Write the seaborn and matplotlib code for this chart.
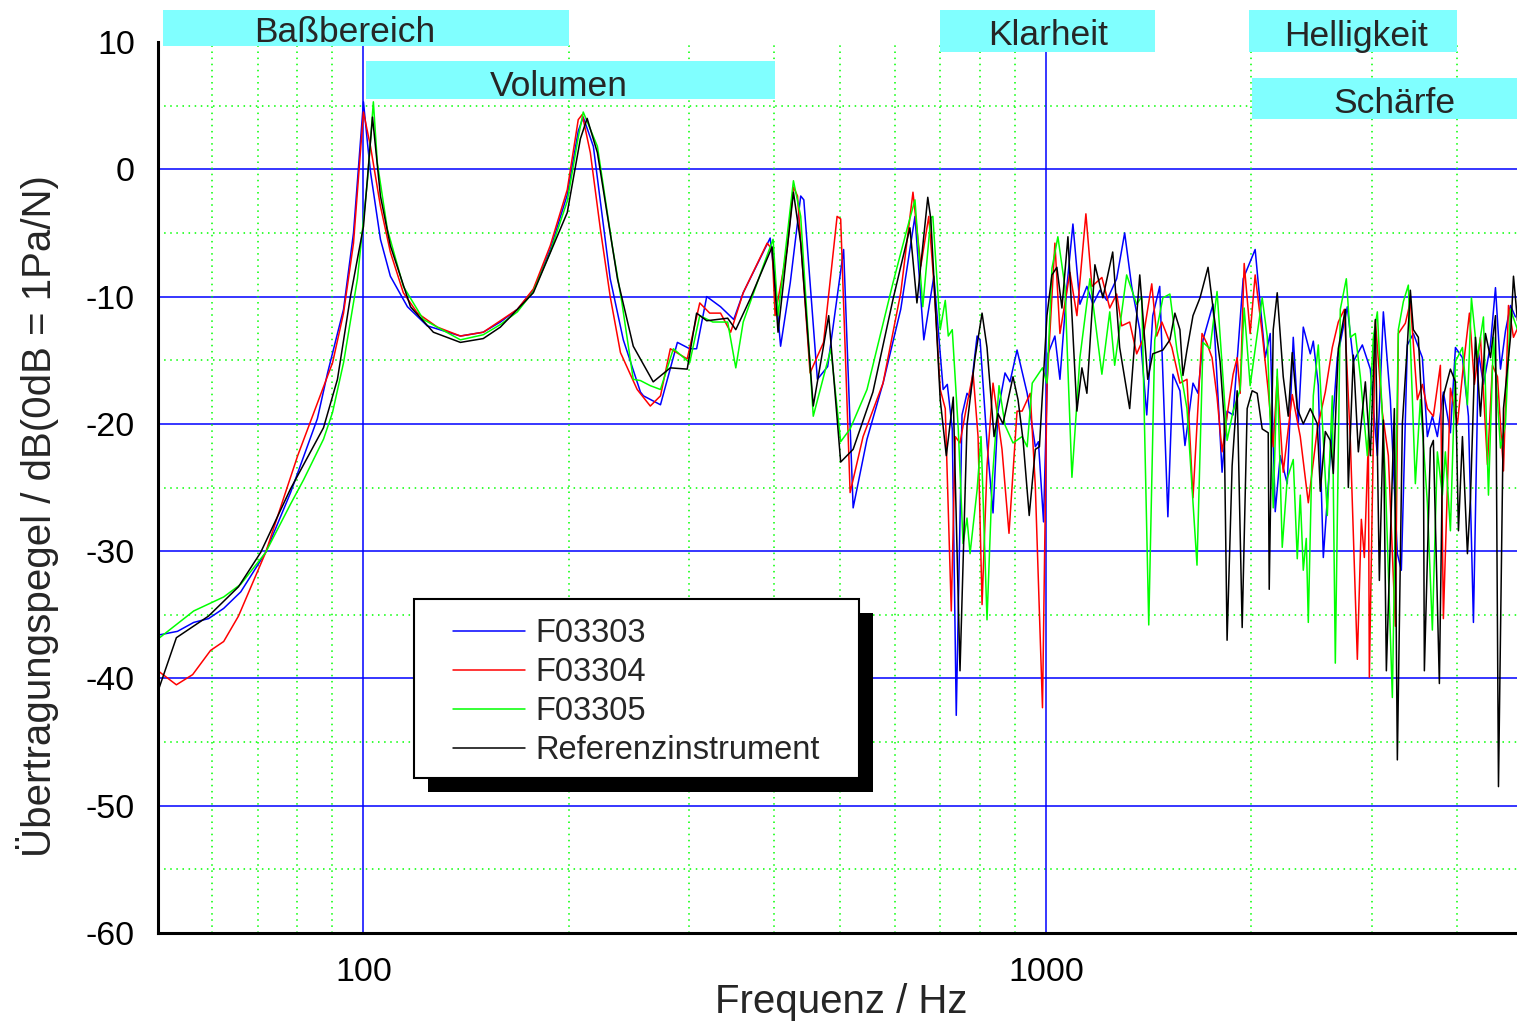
import matplotlib
matplotlib.use("Agg")
import matplotlib.pyplot as plt
from matplotlib.patches import Rectangle
from matplotlib.lines import Line2D
from matplotlib.transforms import IdentityTransform
import pandas as pd
import seaborn as sns

# Frequenzgang F03303 (blau)
f_f03303 = [50, 53.4, 56.4, 59.3, 62.4, 66.1, 71.9, 78.2, 85.6, 88.6, 93.5, 96.7, 98.3, 100, 101.4, 102.4,
            105.9, 109.5, 116, 124, 138.7, 149.8, 158.7, 168.1, 177.4, 187.8, 198.9, 206.4, 209.9, 217.2,
            229.9, 240.3, 254.6, 257.2, 272.4, 288.4, 300.6, 307.7, 318.4, 333.6, 348.8, 360.1, 394.4, 401,
            408.5, 422.1, 437.2, 441.8, 462.5, 478.8, 505.3, 521.8, 546.8, 577.2, 612.7, 642.8, 662.3, 685.1,
            707, 716.9, 729, 738.9, 753.4, 766.2, 774.1, 792.7, 800.7, 819.7, 836.5, 850.7, 871, 885.8, 907.1,
            938.6, 964.8, 974.9, 991.9, 1006.8, 1030.7, 1048.3, 1073.3, 1095.3, 1121.4, 1148.2, 1171.7, 1199.6,
            1228, 1269.5, 1304.2, 1335.4, 1372.3, 1405.1, 1433.8, 1468, 1508.9, 1534.7, 1571.5, 1598.4, 1642.3,
            1670.3, 1698.8, 1757.2, 1811.6, 1842.5, 1880.4, 1945.3, 2025.6, 2060.2, 2095.4, 2131, 2167.4,
            2204.3, 2257.2, 2303.4, 2342.6, 2382.6, 2439.7, 2464.5, 2506.5, 2549.2, 2610.1, 2672.4, 2764.3,
            2821, 2908, 2987.6, 3059, 3121.6, 3196.2, 3272.5, 3317, 3384.8, 3454, 3560.6, 3621.2, 3682.8,
            3745.6, 3822.3, 3914.1, 3981.1, 4076, 4159.4, 4230.2, 4302.3, 4375.6, 4480.4, 4556.7, 4634.3,
            4713.2, 4793.4, 4874.9]
db_f03303 = [-36.6, -36.3, -35.6, -35.3, -34.5, -33.2, -30.1, -25.4, -19.6, -16.0, -11.0, -5.0, 0.0, 5.3, 2.0, -0.2,
             -5.5, -8.4, -10.8, -12.3, -13.1, -12.8, -12.0, -11.0, -9.5, -6.3, -2.0, 3.0, 4.1, 1.8,
             -8.6, -13.4, -17.5, -17.8, -18.5, -13.6, -14.1, -14.1, -10.0, -10.8, -11.8, -9.7, -5.4, -8.9,
             -13.9, -8.9, -2.1, -2.4, -16.5, -15.5, -6.3, -26.6, -21.2, -16.8, -11.0, -3.7, -13.4, -8.4,
             -17.3, -16.9, -20.4, -42.9, -19.3, -17.6, -17.9, -13.1, -13.4, -21.5, -27.0, -19.0, -16.0, -16.7, -14.2,
             -17.6, -21.8, -21.4, -27.7, -14.5, -13.1, -16.5, -9.2, -4.3, -10.6, -9.2, -10.6, -9.5,
             -10.3, -8.6, -5.0, -9.2, -12.6, -19.3, -11.5, -9.2, -27.3, -16.1, -17.4, -21.7, -16.8,
             -17.6, -13.4, -10.6, -23.8, -19.0, -19.3, -8.6, -6.3, -10.6, -14.8, -12.9, -26.9,
             -22.5, -24.7, -13.2, -20.0, -12.4, -14.5, -13.5, -17.0, -30.5, -22.5, -14.8, -10.8,
             -15.1, -13.8, -15.7, -22.5, -11.2, -18.1, -30.2, -31.5, -13.8, -12.9, -14.8, -21.0, -19.4,
             -21.0, -17.5, -20.7, -14.0, -14.8, -19.4, -35.6, -14.4, -16.9, -13.8, -9.3, -15.7,
             -12.7, -10.7, -11.6]

# Frequenzgang F03304 (rot)
f_f03304 = [50, 53.2, 56.2, 59.7, 62.4, 65.6, 71.9, 80.1, 84.2, 90.1, 93.5, 96.7, 98.3, 100, 102.4, 105.9,
            109.5, 114.4, 120, 128.3, 138.7, 149.8, 158.7, 168.1, 177.4, 187.8, 198.9, 206.4, 209.2, 215,
            222.4, 229.9, 238, 251.8, 263.2, 272.4, 281.6, 298.1, 311, 321.6, 333.6, 345.2, 360.1, 390.4,
            397, 401, 417.6, 426.6, 432.5, 451.2, 472.2, 494.3, 500.3, 516.5, 539.6, 577.2, 612.7, 638.5,
            655.6, 673.5, 685.1, 700, 712, 726.6, 736.4, 748.3, 761.1, 782, 795.3, 806.1, 819.7, 836.5, 862.2,
            882.8, 907.1, 922.7, 948.3, 964.8, 988.4, 1003.4, 1030.7, 1048.3, 1084.3, 1110.1, 1144.3, 1167.7,
            1207.7, 1240.2, 1269.5, 1291.1, 1326.4, 1358.1, 1386.3, 1429, 1453.3, 1478.6, 1529.5, 1571.5,
            1609.3, 1642.3, 1693.1, 1721.9, 1751.3, 1781.2, 1811.6, 1848.8, 1880.4, 1906.2, 1925.7, 1951.9,
            1991.7, 2025.6, 2074.2, 2116.8, 2152.9, 2182.1, 2226.8, 2295.6, 2358.5, 2423.3, 2498.1, 2566.4,
            2627.7, 2681.4, 2736.4, 2792.5, 2859.3, 2898.2, 2927.7, 2967.5, 2977.5, 3038.5, 3111.1, 3174.7,
            3250.5, 3283.6, 3362, 3419.2, 3501, 3560.6, 3621.2, 3695.3, 3783.8, 3822.3, 3914.1, 4008, 4089.8,
            4173.4, 4244.5, 4331.5, 4435.2, 4510.8, 4587.6, 4681.4, 4761.1, 4842.2, 4907.9]
db_f03304 = [-39.4, -40.5, -39.7, -37.8, -37.1, -35.1, -30.1, -22.5, -19.4, -15.2, -11.3, -5.8, -0.8, 4.5, 1.8, -2.9,
             -6.5, -9.7, -11.3, -12.4, -13.1, -12.8, -11.9, -11.0, -9.4, -6.0, -1.6, 3.9, 4.3, 1.3,
             -4.7, -10.0, -14.4, -17.3, -18.6, -17.8, -14.1, -14.9, -10.5, -11.3, -11.3, -12.8, -9.7, -5.8,
             -6.3, -11.5, -6.3, -1.4, -2.1, -16.0, -13.6, -3.7, -3.9, -25.4, -21.0, -16.8, -9.7, -1.8,
             -7.6, -3.7, -8.9, -17.3, -18.8, -34.7, -21.0, -21.5, -19.3, -16.0, -21.0, -34.2, -23.3, -16.8, -22.0,
             -28.6, -19.0, -19.0, -17.6, -24.9, -42.3, -17.0, -5.8, -12.9, -8.1, -11.5, -3.5, -9.2,
             -8.5, -10.9, -9.8, -12.3, -12.0, -14.5, -13.4, -9.0, -13.1, -12.0, -14.0, -16.8,
             -16.5, -25.8, -12.9, -13.7, -14.8, -17.9, -22.2, -18.8, -16.1, -14.8, -17.6, -7.4,
             -12.9, -8.3, -12.9, -17.4, -21.8, -16.3, -23.8, -17.7, -21.0, -26.2, -20.4, -17.5,
             -14.0, -12.0, -11.0, -21.3, -38.5, -27.5, -30.5, -21.3, -39.9, -11.9, -19.1, -22.5,
             -35.9, -12.9, -12.1, -10.4, -18.1, -16.9, -18.8, -19.4, -15.4, -35.3, -17.2, -20.0, -15.4,
             -11.3, -16.9, -13.2, -23.2, -15.4, -16.3, -23.7, -10.7, -13.2, -12.5]

# Frequenzgang F03305 (gruen)
f_f03305 = [50, 56.4, 62.4, 66.1, 71.9, 78.2, 81.7, 87.4, 90.1, 93.5, 98, 101.4, 103.4, 104.8, 108.4, 114.4,
            122.4, 138.7, 149.8, 158.7, 168.1, 177.4, 187.8, 198.9, 206.4, 209.9, 220.2, 231.5, 239.2, 248.5,
            254.6, 263.2, 272.4, 284.5, 300.6, 311, 325, 341.7, 351.2, 360.1, 385.2, 398.3, 405, 426.6, 437.2,
            456.1, 484, 500.3, 516.5, 546.8, 597, 625.8, 642.8, 660, 678.1, 682.8, 700, 712, 719.3, 729,
            743.9, 756, 766.2, 774.1, 792.7, 803.4, 819.7, 833.7, 853.6, 871, 894.8, 922.7, 938.6, 954.8,
            988.4, 1003.4, 1020.4, 1041.1, 1066, 1091.6, 1121.4, 1159.9, 1207.7, 1240.2, 1261, 1313, 1358.1,
            1381.6, 1414.6, 1443.5, 1483.6, 1519.2, 1555.6, 1609.3, 1664.7, 1698.8, 1739.5, 1781.2, 1817.8,
            1842.5, 1880.4, 1925.7, 1951.9, 1991.7, 2074.2, 2109.6, 2152.9, 2182.1, 2219.3, 2257.2, 2303.4,
            2334.7, 2358.5, 2382.6, 2406.9, 2423.3, 2464.5, 2506.5, 2583.8, 2627.7, 2654.5, 2699.6, 2755,
            2792.5, 2840.1, 2888.4, 2957.5, 3018, 3059, 3142.7, 3217.8, 3283.6, 3339.5, 3396.2, 3477.4,
            3536.6, 3621.2, 3682.8, 3745.6, 3809.4, 3848.2, 3914.1, 3981.1, 4076, 4145.3, 4201.7, 4287.8,
            4375.6, 4450.2, 4526, 4634.3, 4713.2, 4793.4, 4907.9]
db_f03305 = [-36.9, -34.7, -33.6, -32.6, -30.1, -26.3, -24.4, -21.2, -19.1, -15.2, -8.6, -0.8, 5.3, 0.5, -4.7, -9.2,
             -11.8, -13.4, -13.0, -12.2, -11.2, -9.6, -6.5, -2.5, 2.5, 4.5, 1.8, -6.0, -10.5, -16.5,
             -16.6, -17.0, -17.3, -14.1, -15.2, -11.5, -12.0, -12.0, -15.6, -12.0, -7.6, -5.5, -11.5, -0.9, -3.7,
             -19.4, -14.1, -21.4, -20.4, -17.3, -8.9, -4.7, -2.4, -10.8, -3.8, -3.7, -12.6, -10.3, -13.1, -12.6,
             -20.4, -29.4, -27.4, -30.2, -25.2, -21.0, -35.4, -24.7, -17.0, -20.1, -21.5, -21.0, -21.8, -16.8,
             -15.6, -16.8, -7.8, -5.3, -9.2, -24.2, -14.8, -8.6, -16.1, -11.2, -15.4, -8.3, -10.6,
             -10.0, -35.8, -13.4, -10.1, -9.8, -14.2, -18.8, -31.1, -13.6, -14.1, -9.6, -16.5,
             -21.3, -19.0, -17.3, -10.9, -17.0, -10.1, -13.1, -26.6, -15.7, -29.7, -24.3, -22.8,
             -30.6, -25.6, -31.5, -29.0, -35.6, -17.8, -13.8, -27.2, -17.8, -38.8, -11.0, -8.6,
             -13.2, -12.9, -16.3, -22.5, -13.2, -11.2, -24.3, -41.5, -12.6, -10.4, -9.1, -24.7,
             -18.1, -26.2, -36.2, -22.2, -25.6, -22.2, -28.4, -15.1, -14.0, -18.5, -10.1, -14.8,
             -11.6, -25.6, -13.2, -21.9, -20.0, -11.0, -12.6]

# Frequenzgang Referenzinstrument (schwarz)
f_ref = [50, 53.2, 59.3, 65.6, 70.7, 78.2, 87.4, 91.6, 95.7, 100, 103.1, 105.9, 109.5, 117.2, 126.6, 138.7,
         149.8, 158.7, 177.4, 198.9, 207.9, 212.7, 220.2, 235.6, 248.5, 265.8, 281.6, 298.1, 307.7, 318.4,
         341.7, 351.2, 368.5, 397, 405, 426.6, 437.2, 456.1, 480.5, 500.3, 521.8, 557.8, 597, 632, 647.1,
         671.2, 678.1, 682.8, 700, 714.5, 731.5, 748.3, 766.2, 787.3, 806.1, 819.7, 839.4, 850.7, 865.1,
         894.8, 910.1, 925.8, 945.1, 964.8, 978.2, 1003.4, 1020.4, 1037.6, 1055.4, 1077, 1110.1, 1129,
         1148.2, 1179.6, 1211.8, 1252.6, 1282.4, 1326.4, 1372.3, 1409.8, 1433.8, 1483.6, 1519.2, 1545.1,
         1571.5, 1587.6, 1609.3, 1642.3, 1681.7, 1727.8, 1757.2, 1799.4, 1824, 1842.5, 1874.1, 1906.2,
         1938.7, 1971.7, 2005.2, 2039.4, 2074.2, 2116.8, 2124, 2152.9, 2182.1, 2226.8, 2264.8, 2295.6,
         2334.7, 2382.6, 2439.7, 2498.1, 2523.5, 2566.4, 2610.1, 2636.6, 2681.4, 2745.7, 2773.6, 2821,
         2869, 2937.6, 2987.6, 3038.5, 3079.8, 3121.6, 3153.4, 3239.6, 3272.5, 3328.2, 3384.8, 3419.2,
         3454, 3512.8, 3572.7, 3584.8, 3658.1, 3695.3, 3771, 3822.3, 3914.1, 3981.1, 4021.5, 4076, 4145.3,
         4187.5, 4258.9, 4331.5, 4405.3, 4480.4, 4556.7, 4603.1, 4681.4, 4793.4, 4842.2, 4907.9]
db_ref = [-41.0, -36.8, -35.1, -32.8, -30.1, -25.1, -20.3, -16.5, -10.0, -4.5, 4.1, -2.1, -6.0, -10.8, -12.8, -13.6,
          -13.3, -12.4, -9.7, -3.4, 2.4, 4.0, 1.3, -8.6, -13.9, -16.7, -15.6, -15.7, -11.3, -11.9,
          -11.7, -12.6, -10.2, -6.1, -12.8, -1.8, -5.8, -18.6, -11.5, -23.0, -22.0, -17.5, -10.2, -4.6, -10.5,
          -2.2, -3.9, -7.0, -18.1, -22.5, -17.9, -39.4, -20.1, -14.8, -11.3, -14.0, -21.0, -19.2, -20.0,
          -16.3, -18.1, -21.3, -27.2, -22.0, -21.8, -11.5, -8.3, -7.7, -10.9, -5.3, -19.0, -15.6,
          -17.6, -7.5, -10.1, -6.5, -14.0, -18.8, -8.3, -16.5, -14.5, -14.2, -13.4, -11.3,
          -12.6, -16.2, -14.2, -11.5, -10.1, -7.7, -10.9, -15.1, -19.6, -37.0, -23.3, -17.4,
          -36.0, -18.8, -17.4, -17.6, -20.4, -20.7, -33.0, -12.6, -9.7, -16.3, -19.4, -14.4,
          -18.8, -20.0, -18.8, -20.0, -25.3, -20.6, -21.3, -23.9, -14.1, -11.0, -25.0, -14.6,
          -22.2, -16.7, -22.5, -11.8, -32.3, -19.7, -39.4, -18.8, -46.4, -20.0, -13.8, -9.5,
          -12.6, -13.2, -21.0, -39.4, -21.9, -21.3, -40.4, -17.8, -15.7, -16.7, -28.4, -21.0, -30.2,
          -25.9, -13.2, -19.4, -12.9, -14.8, -11.5, -48.5, -18.8, -13.2, -8.4, -11.9]

series_names = ["F03303", "F03304", "F03305", "Referenzinstrument"]
series_colors = ["#0000ff", "#ff0000", "#00ff00", "#000000"]

# Klangbereiche (Beschriftungen oben)
band_names = ["Baßbereich", "Volumen", "Klarheit", "Helligkeit", "Schärfe"]
band_f_lo = [50.8, 100.7, 700, 1985, 2005]
band_f_hi = [200, 401, 1443, 4008, 5300]
band_db_lo = [9.66, 5.5, 9.19, 9.19, 3.93]
band_db_hi = [12.49, 8.48, 12.49, 12.49, 7.15]
band_text_f = [93.8, 193, 1007, 2844, 3237]
band_text_db = [11.0, 6.76, 10.76, 10.68, 5.42]

x_major = [100, 1000]
x_minor = [60, 70, 80, 90, 200, 300, 400, 500, 600, 700, 800, 900, 2000, 3000, 4000]
y_major = [-60, -50, -40, -30, -20, -10, 0, 10]
y_minor = [-55, -45, -35, -25, -15, -5, 5]

sns.set_style("white")
plt.rcParams["font.family"] = ["Liberation Sans", "DejaVu Sans"]
plt.rcParams["axes.unicode_minus"] = False

frames = []
for name, f, db in zip(series_names,
                       [f_f03303, f_f03304, f_f03305, f_ref],
                       [db_f03303, db_f03304, db_f03305, db_ref]):
    frames.append(pd.DataFrame({"Frequenz": f, "Pegel": db, "Instrument": name}))
df = pd.concat(frames, ignore_index=True)

W, H = 1517, 1022
fig = plt.figure(figsize=(W / 100, H / 100), dpi=100)
ax = fig.add_axes([158 / W, 89 / H, 1359 / W, 891 / H])
ax.set_xscale("log")

# Gitter
for v in y_major[1:-1]:
    ax.axhline(v, color="#0000ff", lw=1.1, zorder=1)
for v in y_minor:
    ax.axhline(v, color="#00ff00", lw=1.1, ls=(0, (1, 3)), zorder=1)
for v in x_major:
    ax.axvline(v, color="#0000ff", lw=1.1, zorder=1)
for v in x_minor:
    ax.axvline(v, color="#00ff00", lw=1.1, ls=(0, (1, 3)), zorder=1)

sns.lineplot(data=df, x="Frequenz", y="Pegel", hue="Instrument",
             palette=dict(zip(series_names, series_colors)),
             estimator=None, sort=False, lw=1.1, legend=False, ax=ax)

ax.set_xlim(50, 4900)
ax.set_ylim(-60, 10)
ax.set_xticks(x_major)
ax.set_xticklabels([str(v) for v in x_major])
ax.set_xticks(x_minor, minor=True)
ax.set_xticklabels([], minor=True)
ax.set_yticks(y_major)
ax.set_yticklabels([str(v) for v in y_major])
ax.set_yticks(y_minor, minor=True)

ax.tick_params(axis="both", which="both", direction="in", width=2.2, color="black",
               labelsize=24.5, labelcolor="black")
ax.tick_params(axis="y", which="major", length=14, pad=16.5)
ax.tick_params(axis="y", which="minor", length=8.5)
ax.tick_params(axis="x", which="major", length=12, pad=17.5)
ax.tick_params(axis="x", which="minor", length=6.5)

sns.despine(ax=ax)
for s in ["left", "bottom"]:
    ax.spines[s].set_linewidth(2.2)
    ax.spines[s].set_color("black")

ax.set_xlabel("Frequenz / Hz", fontsize=29)
ax.set_ylabel("Übertragungspegel / dB(0dB = 1Pa/N)", fontsize=29)
ax.xaxis.label.set_verticalalignment("center")
ax.yaxis.label.set_verticalalignment("center")
ax.xaxis.set_label_coords(0.5026, -0.0775)
ax.yaxis.set_label_coords(-0.089, 0.468)

# Klangbereiche als Kästen
for name, f0, f1, d0, d1, ft, dt in zip(band_names, band_f_lo, band_f_hi, band_db_lo, band_db_hi,
                                        band_text_f, band_text_db):
    ax.add_patch(Rectangle((f0, d0), f1 - f0, d1 - d0, facecolor="#80ffff", edgecolor="none",
                           clip_on=False, zorder=3))
    ax.text(ft, dt, name, fontsize=25.5, ha="center", va="center_baseline", zorder=4, clip_on=False)

# Legende mit schwarzem Schatten
handles = [Line2D([], [], color=c, lw=1.1) for c in series_colors]
leg = ax.legend(handles, series_names, loc="upper left", bbox_to_anchor=(0.2171, 0.3536),
                frameon=False, fontsize=23.5, handlelength=2.2, handletextpad=0.33,
                labelspacing=0.25, borderpad=0, borderaxespad=0)
leg.set_zorder(6)
fig.canvas.draw()
bb = leg.get_window_extent(fig.canvas.get_renderer())
pad_x, pad_top, pad_bottom = 39, 19, 12
fx0, fy0 = bb.x0 - pad_x, bb.y0 - pad_bottom
fw, fh = bb.width + 2 * pad_x, bb.height + pad_top + pad_bottom
ax.add_patch(Rectangle((fx0 + 14, fy0 - 14), fw, fh, transform=IdentityTransform(),
                       facecolor="black", edgecolor="none", clip_on=False, zorder=5))
ax.add_patch(Rectangle((fx0, fy0), fw, fh, transform=IdentityTransform(),
                       facecolor="white", edgecolor="black", lw=1.5, clip_on=False, zorder=5.5))

fig.savefig("out.png", dpi=100)
